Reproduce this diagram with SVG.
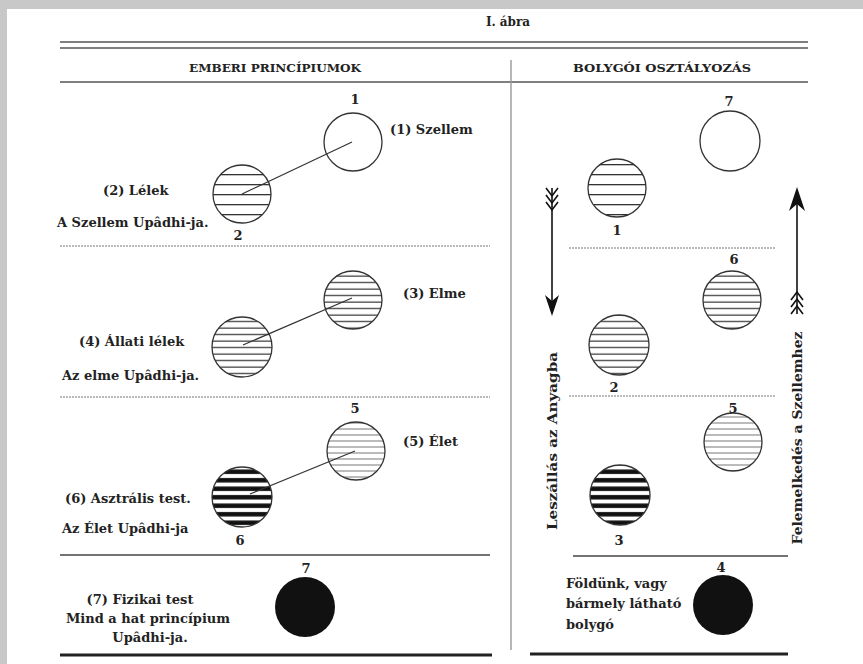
<svg xmlns="http://www.w3.org/2000/svg" width="863" height="664" viewBox="0 0 863 664">
<style>
text{font-family:"DejaVu Serif","Liberation Serif",serif;font-weight:bold;fill:#222;font-size:13px}
.hd{font-size:10.5px}
.c{text-anchor:middle}
.ring{stroke:#333;stroke-width:1.3}
.rule{stroke:#555;stroke-width:1.4;fill:none}
.dot{stroke:#777;stroke-width:1.2;stroke-dasharray:2 1;fill:none}
.thick{stroke:#222;stroke-width:3;fill:none}
.conn{stroke:#333;stroke-width:1.2;fill:none}
.shaft{stroke:#111;stroke-width:1.6;fill:none}
</style>
<defs>
<pattern id="hA" patternUnits="userSpaceOnUse" width="10" height="10"><rect width="10" height="10" fill="#fff"/><rect y="4" width="10" height="1.3" fill="#333"/></pattern>
<pattern id="hB" patternUnits="userSpaceOnUse" width="10" height="6.5"><rect width="10" height="6.5" fill="#fff"/><rect y="2.5" width="10" height="1.2" fill="#333"/></pattern>
<pattern id="hC" patternUnits="userSpaceOnUse" width="10" height="6"><rect width="10" height="6" fill="#fff"/><rect y="2.5" width="10" height="1" fill="#777"/></pattern>
<pattern id="hD" patternUnits="userSpaceOnUse" width="10" height="8.5"><rect width="10" height="8.5" fill="#fff"/><rect y="2" width="10" height="4.5" fill="#111"/></pattern>
</defs>
<rect width="863" height="664" fill="#c8c8c8"/>
<rect x="7" y="9" width="856" height="655" fill="#fff"/>

<g id="frame">
<text class="c" x="508" y="26" style="font-size:12px">I. ábra</text>
<line class="rule" x1="60" y1="42" x2="808" y2="42"/>
<line class="rule" x1="60" y1="48" x2="808" y2="48"/>
<text class="hd c" x="275" y="72" textLength="172" lengthAdjust="spacingAndGlyphs">EMBERI PRINCÍPIUMOK</text>
<text class="hd c" x="662" y="72" textLength="178" lengthAdjust="spacingAndGlyphs">BOLYGÓI OSZTÁLYOZÁS</text>
<line class="rule" x1="60" y1="82" x2="808" y2="82"/>
<line x1="511" y1="60" x2="511" y2="650" stroke="#999" stroke-width="1.4"/>
<line class="dot" x1="60" y1="246" x2="490" y2="246"/>
<line class="dot" x1="60" y1="397" x2="490" y2="397"/>
<line class="rule" x1="60" y1="555" x2="490" y2="555" style="stroke:#444"/>
<line class="thick" x1="60" y1="655" x2="492" y2="655"/>
<line class="dot" x1="569" y1="248" x2="776" y2="248"/>
<line class="dot" x1="569" y1="396" x2="776" y2="396"/>
<line class="rule" x1="573" y1="556" x2="788" y2="556" style="stroke:#444"/>
<line class="thick" x1="530" y1="654" x2="788" y2="654"/>
</g>

<g id="p1">
<circle class="ring" cx="353" cy="142" r="29" fill="#fff"/>
<text class="c" x="355" y="104">1</text>
<text x="390" y="134">(1) Szellem</text>
</g>
<g id="p2">
<circle class="ring" cx="242" cy="194" r="29" fill="url(#hA)"/>
<text x="103" y="195">(2) Lélek</text>
<text x="57" y="227">A Szellem Upâdhi-ja.</text>
<text class="c" x="238" y="240">2</text>
</g>
<g id="p3">
<circle class="ring" cx="353" cy="300" r="29" fill="url(#hB)"/>
<text x="403" y="298">(3) Elme</text>
</g>
<g id="p4">
<circle class="ring" cx="242" cy="347" r="30" fill="url(#hB)"/>
<text x="79" y="346">(4) Állati lélek</text>
<text x="62" y="380">Az elme Upâdhi-ja.</text>
</g>
<g id="p5">
<circle class="ring" cx="356" cy="451" r="29" fill="url(#hC)"/>
<text class="c" x="355" y="413">5</text>
<text x="403" y="446">(5) Élet</text>
</g>
<g id="p6">
<circle class="ring" cx="242" cy="497" r="30" fill="url(#hD)"/>
<text x="65" y="503">(6) Asztrális test.</text>
<text x="62" y="533">Az Élet Upâdhi-ja</text>
<text class="c" x="240" y="545">6</text>
</g>
<g id="p7">
<circle cx="305" cy="607" r="30" fill="#111"/>
<text class="c" x="306" y="573">7</text>
<text class="c" x="140" y="604">(7) Fizikai test</text>
<text class="c" x="148" y="623">Mind a hat princípium</text>
<text class="c" x="150" y="642">Upâdhi-ja.</text>
</g>

<g id="g7">
<circle class="ring" cx="730" cy="141" r="30" fill="#fff"/>
<text class="c" x="729" y="106">7</text>
</g>
<g id="g1">
<circle class="ring" cx="617" cy="188" r="29" fill="url(#hA)"/>
<text class="c" x="617" y="235">1</text>
</g>
<g id="g6">
<circle class="ring" cx="732" cy="300" r="29" fill="url(#hB)"/>
<text class="c" x="734" y="264">6</text>
</g>
<g id="g2">
<circle class="ring" cx="619" cy="345" r="30" fill="url(#hB)"/>
<text class="c" x="614" y="392">2</text>
</g>
<g id="g5">
<circle class="ring" cx="733" cy="442" r="29" fill="url(#hC)"/>
<text class="c" x="733" y="413">5</text>
</g>
<g id="g3">
<circle class="ring" cx="620" cy="495" r="30" fill="url(#hD)"/>
<text class="c" x="619" y="545">3</text>
</g>
<g id="g4">
<circle cx="723" cy="605" r="30" fill="#111"/>
<text class="c" x="721" y="572">4</text>
<text x="566" y="588">Földünk, vagy</text>
<text x="566" y="608">bármely látható</text>
<text x="566" y="629">bolygó</text>
</g>

<g id="descent">
<text class="c" x="557" y="0" transform="translate(0 441) rotate(-90 557 0)" textLength="178" lengthAdjust="spacingAndGlyphs">Leszállás az Anyagba</text>
</g>
<g id="ascent">
<text class="c" x="802" y="0" transform="translate(0 438) rotate(-90 802 0)" textLength="213" lengthAdjust="spacingAndGlyphs">Felemelkedés a Szellemhez</text>
</g>

<g id="connectors">
<line class="conn" x1="242" y1="194" x2="352" y2="142"/>
<line class="conn" x1="243" y1="345" x2="352" y2="298"/>
<line class="conn" x1="250" y1="494" x2="355" y2="451"/>
<line class="shaft" x1="552" y1="188" x2="552" y2="302"/>
<polygon points="552,316 545,295 552,301 559,295" fill="#111"/>
<polyline class="shaft" points="546,188 552,196 558,188"/>
<polyline class="shaft" points="546,195 552,203 558,195"/>
<polyline class="shaft" points="546,202 552,210 558,202"/>
<line class="shaft" x1="797" y1="204" x2="797" y2="314"/>
<polygon points="797,187 789,211 797,204 805,211" fill="#111"/>
<polyline class="shaft" points="791,300 797,292 803,300"/>
<polyline class="shaft" points="791,307 797,299 803,307"/>
<polyline class="shaft" points="791,314 797,306 803,314"/>
</g>
</svg>
